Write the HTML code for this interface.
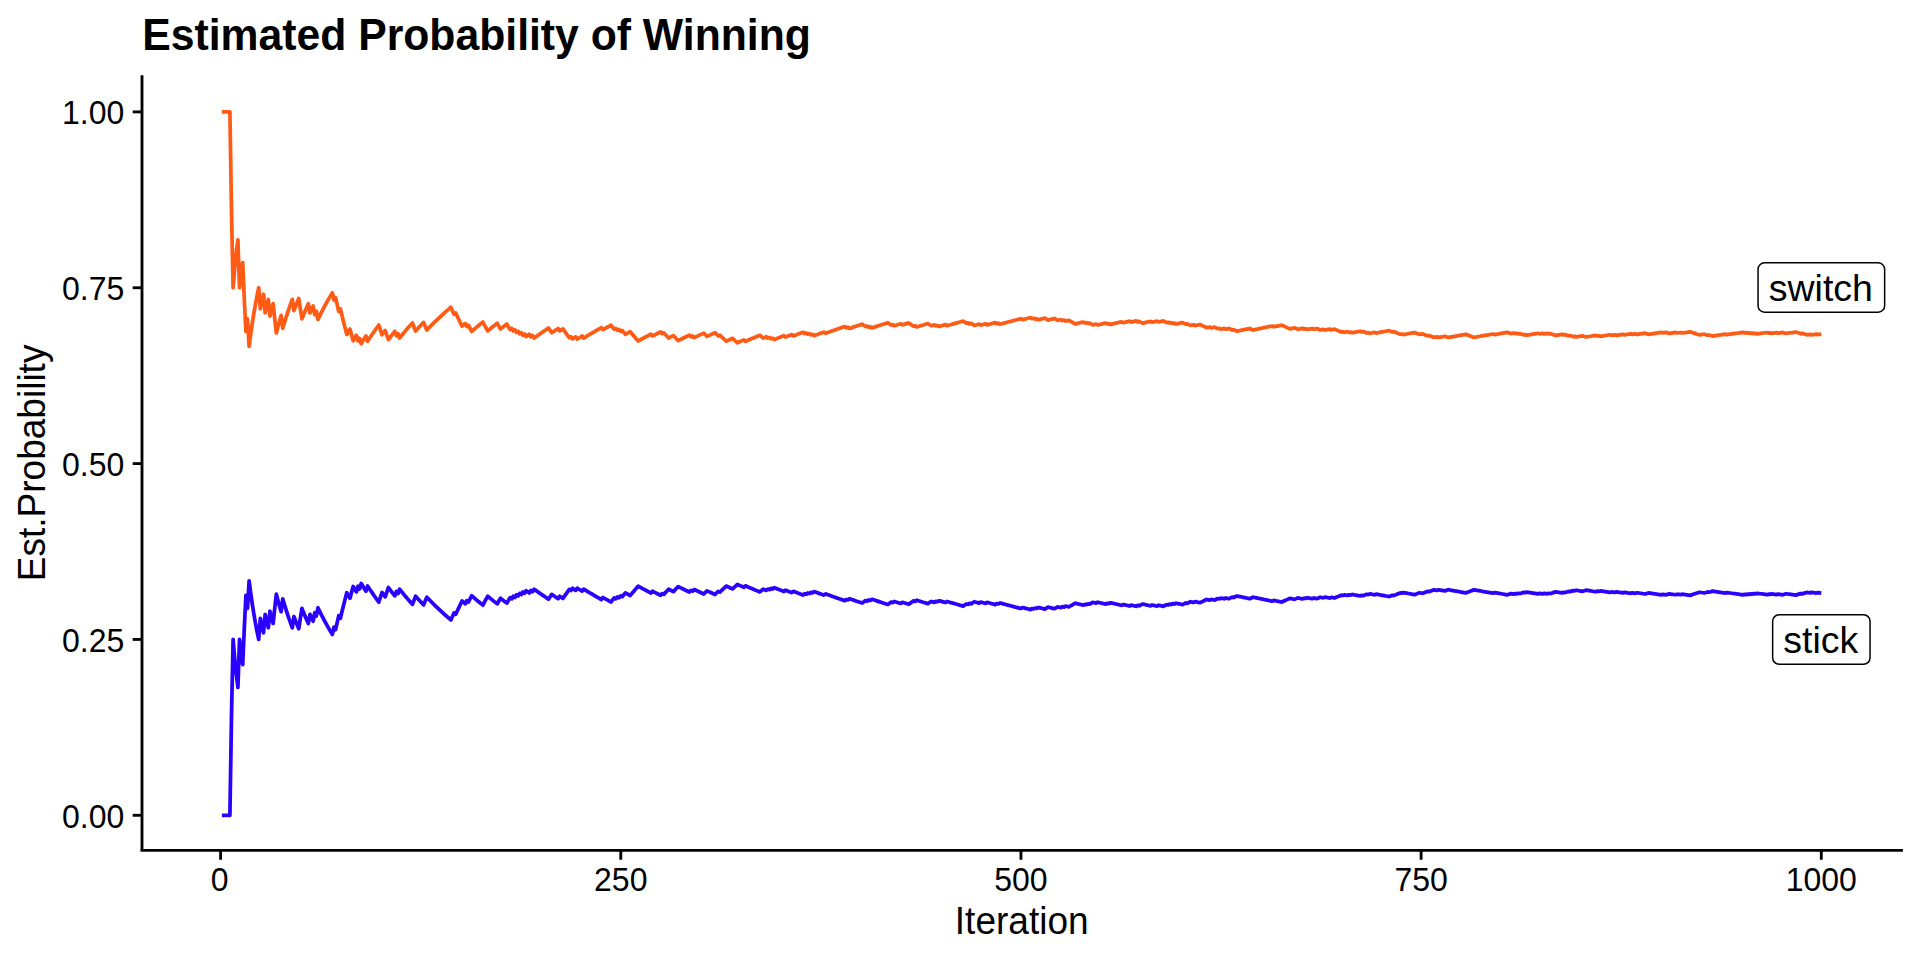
<!DOCTYPE html>
<html lang="en"><head><meta charset="utf-8"><title>Estimated Probability of Winning</title>
<style>html,body{margin:0;padding:0;background:#fff;}body{width:1920px;height:960px;overflow:hidden;}svg{display:block;}</style>
</head><body>
<svg width="1920" height="960" viewBox="0 0 1920 960">
<rect width="1920" height="960" fill="#fff"/>
<polyline fill="none" stroke="#2A00FF" stroke-width="3.75" stroke-linejoin="round" stroke-linecap="butt" points="221.90,815.30 223.50,815.30 225.10,815.30 226.70,815.30 228.31,815.30 229.91,815.30 231.51,714.81 233.11,639.45 234.71,658.99 236.31,674.62 237.91,687.41 239.51,639.45 241.11,652.98 242.71,664.57 244.31,627.73 245.92,595.49 247.52,608.42 249.12,580.83 250.72,593.17 252.32,604.28 253.92,614.33 255.52,623.46 257.12,631.80 258.72,639.45 260.32,618.35 261.93,625.92 263.53,632.94 265.13,614.33 266.73,621.26 268.33,627.73 269.93,611.09 271.53,617.47 273.13,623.46 274.73,608.42 276.34,594.23 277.94,600.37 279.54,606.18 281.14,611.68 282.74,598.87 284.34,604.28 285.94,609.43 287.54,614.33 289.14,619.00 290.74,623.46 292.35,627.73 293.95,616.51 295.55,620.74 297.15,624.80 298.75,628.68 300.35,618.35 301.95,608.42 303.55,612.40 305.15,616.22 306.75,619.91 308.36,623.46 309.96,614.33 311.56,617.85 313.16,621.26 314.76,612.63 316.36,616.00 317.96,607.74 319.56,611.09 321.16,614.33 322.76,617.47 324.37,620.51 325.97,623.46 327.57,626.33 329.17,629.11 330.77,631.80 332.37,634.43 333.97,627.07 335.57,629.68 337.17,622.59 338.77,615.69 340.38,618.35 341.98,611.68 343.58,605.19 345.18,598.87 346.78,592.71 348.38,595.49 349.98,598.20 351.58,592.27 353.18,586.48 354.78,589.21 356.38,591.87 357.99,586.29 359.59,588.92 361.19,583.50 362.79,586.10 364.39,588.65 365.99,591.14 367.59,585.93 369.19,588.40 370.79,590.81 372.39,593.17 374.00,595.49 375.60,597.75 377.20,599.97 378.80,602.15 380.40,597.25 382.00,592.44 383.60,594.63 385.20,596.77 386.80,592.11 388.40,587.53 390.01,589.68 391.61,591.79 393.21,593.86 394.81,595.89 396.41,591.49 398.01,593.51 399.61,589.21 401.21,591.21 402.81,593.17 404.42,595.11 406.02,597.00 407.62,598.87 409.22,600.70 410.82,602.51 412.42,604.28 414.02,600.21 415.62,596.21 417.22,597.99 418.82,599.74 420.43,601.47 422.03,603.16 423.63,604.83 425.23,600.98 426.83,597.19 428.43,598.87 430.03,600.52 431.63,602.15 433.23,603.75 434.83,605.33 436.44,606.89 438.04,608.42 439.64,609.93 441.24,611.42 442.84,612.88 444.44,614.33 446.04,615.75 447.64,617.16 449.24,618.54 450.84,619.91 452.45,616.41 454.05,612.95 455.65,614.33 457.25,610.93 458.85,607.58 460.45,604.28 462.05,601.02 463.65,602.43 465.25,603.82 466.85,600.63 468.46,602.01 470.06,598.87 471.66,595.77 473.26,597.16 474.86,598.53 476.46,599.88 478.06,601.22 479.66,602.54 481.26,603.85 482.86,605.14 484.47,602.15 486.07,599.20 487.67,596.28 489.27,597.58 490.87,598.87 492.47,600.14 494.07,601.40 495.67,602.64 497.27,603.87 498.87,601.05 500.48,598.25 502.08,599.48 503.68,600.70 505.28,601.91 506.88,603.10 508.48,600.37 510.08,597.67 511.68,598.87 513.28,596.21 514.88,597.40 516.49,594.77 518.09,595.96 519.69,593.37 521.29,594.55 522.89,592.00 524.49,593.17 526.09,590.65 527.69,591.82 529.29,592.98 530.89,590.50 532.50,591.65 534.10,589.21 535.70,590.35 537.30,591.49 538.90,592.62 540.50,593.73 542.10,594.83 543.70,595.92 545.30,597.00 546.90,598.07 548.50,599.13 550.11,596.77 551.71,594.43 553.31,595.49 554.91,596.54 556.51,597.58 558.11,598.61 559.71,596.32 561.31,597.35 562.91,598.36 564.51,596.10 566.12,593.86 567.72,591.64 569.32,589.44 570.92,590.47 572.52,588.29 574.12,589.32 575.72,590.34 577.32,588.19 578.92,589.21 580.53,590.21 582.13,591.21 583.73,589.10 585.33,590.09 586.93,591.07 588.53,592.05 590.13,593.01 591.73,593.97 593.33,594.92 594.93,595.86 596.54,596.80 598.14,597.72 599.74,598.64 601.34,599.55 602.94,597.51 604.54,598.42 606.14,599.32 607.74,600.21 609.34,601.10 610.94,601.97 612.55,599.97 614.15,597.99 615.75,598.87 617.35,596.91 618.95,597.78 620.55,595.84 622.15,596.71 623.75,594.79 625.35,592.88 626.95,593.76 628.56,594.63 630.16,595.49 631.76,593.61 633.36,591.74 634.96,589.89 636.56,588.05 638.16,586.22 639.76,587.10 641.36,587.97 642.96,588.83 644.57,589.68 646.17,590.53 647.77,591.37 649.37,592.21 650.97,593.04 652.57,591.25 654.17,592.08 655.77,592.90 657.37,593.72 658.97,594.52 660.58,595.33 662.18,593.58 663.78,594.38 665.38,592.64 666.98,590.92 668.58,589.21 670.18,590.01 671.78,590.81 673.38,591.60 674.98,589.91 676.59,588.24 678.19,586.57 679.79,587.37 681.39,588.16 682.99,588.95 684.59,589.73 686.19,590.50 687.79,591.27 689.39,592.04 690.99,590.40 692.60,591.17 694.20,589.55 695.80,590.31 697.40,591.06 699.00,591.81 700.60,592.56 702.20,593.30 703.80,594.03 705.40,592.44 707.00,590.86 708.61,591.60 710.21,592.33 711.81,593.05 713.41,593.77 715.01,594.49 716.61,592.93 718.21,591.39 719.81,592.11 721.41,590.57 723.01,589.05 724.62,587.53 726.22,586.03 727.82,586.75 729.42,587.47 731.02,588.18 732.62,588.89 734.22,587.41 735.82,585.93 737.42,584.46 739.02,585.18 740.62,585.88 742.23,586.59 743.83,587.29 745.43,585.84 747.03,586.53 748.63,587.23 750.23,587.92 751.83,588.60 753.43,589.28 755.03,589.96 756.63,590.63 758.24,591.30 759.84,591.97 761.44,590.54 763.04,589.13 764.64,589.80 766.24,590.46 767.84,589.06 769.44,589.72 771.04,588.33 772.64,588.99 774.25,587.61 775.85,588.27 777.45,588.92 779.05,589.57 780.65,590.21 782.25,590.85 783.85,591.49 785.45,590.13 787.05,590.77 788.65,591.40 790.26,592.03 791.86,592.66 793.46,591.31 795.06,591.94 796.66,592.56 798.26,593.17 799.86,593.79 801.46,594.40 803.06,595.00 804.66,593.68 806.27,594.29 807.87,592.97 809.47,593.58 811.07,592.27 812.67,592.87 814.27,591.58 815.87,592.18 817.47,592.78 819.07,593.37 820.67,593.96 822.28,594.55 823.88,595.14 825.48,593.86 827.08,594.44 828.68,595.02 830.28,595.60 831.88,596.18 833.48,596.75 835.08,597.32 836.68,597.89 838.29,598.45 839.89,599.01 841.49,599.57 843.09,600.12 844.69,600.67 846.29,599.42 847.89,599.97 849.49,598.73 851.09,599.28 852.69,599.83 854.30,600.37 855.90,600.91 857.50,601.45 859.10,601.99 860.70,602.52 862.30,603.05 863.90,601.83 865.50,600.61 867.10,601.15 868.70,599.94 870.31,600.47 871.91,599.27 873.51,599.80 875.11,600.32 876.71,600.85 878.31,601.37 879.91,601.89 881.51,602.41 883.11,602.92 884.71,603.43 886.32,603.94 887.92,604.45 889.52,603.27 891.12,602.10 892.72,602.61 894.32,601.44 895.92,601.95 897.52,602.45 899.12,602.95 900.72,603.45 902.33,602.30 903.93,602.80 905.53,603.29 907.13,603.79 908.73,604.28 910.33,603.14 911.93,602.00 913.53,600.87 915.13,601.36 916.73,600.24 918.34,600.73 919.94,601.22 921.54,601.71 923.14,602.20 924.74,602.68 926.34,603.16 927.94,603.64 929.54,602.53 931.14,601.43 932.74,601.91 934.35,602.39 935.95,601.29 937.55,601.77 939.15,600.68 940.75,601.15 942.35,601.63 943.95,602.10 945.55,602.57 947.15,601.49 948.76,601.96 950.36,602.43 951.96,602.89 953.56,603.36 955.16,603.82 956.76,604.28 958.36,604.74 959.96,605.19 961.56,605.65 963.16,606.10 964.77,605.04 966.37,603.98 967.97,604.43 969.57,603.38 971.17,603.83 972.77,602.78 974.37,601.74 975.97,602.19 977.57,602.64 979.17,603.09 980.78,602.06 982.38,602.51 983.98,602.95 985.58,603.40 987.18,602.37 988.78,602.81 990.38,603.26 991.98,603.70 993.58,604.13 995.18,604.57 996.79,603.55 998.39,603.99 999.99,602.98 1001.59,603.42 1003.19,603.85 1004.79,604.28 1006.39,604.71 1007.99,605.14 1009.59,605.56 1011.19,605.99 1012.80,606.41 1014.40,606.83 1016.00,607.25 1017.60,607.67 1019.20,608.09 1020.80,608.50 1022.40,607.51 1024.00,607.92 1025.60,608.34 1027.20,608.75 1028.81,609.16 1030.41,609.56 1032.01,608.58 1033.61,608.99 1035.21,608.01 1036.81,608.42 1038.41,607.45 1040.01,607.85 1041.61,608.26 1043.21,608.66 1044.82,609.06 1046.42,608.10 1048.02,607.14 1049.62,607.54 1051.22,607.94 1052.82,608.34 1054.42,608.74 1056.02,607.78 1057.62,606.84 1059.22,607.23 1060.83,607.63 1062.43,606.69 1064.03,607.08 1065.63,606.15 1067.23,606.54 1068.83,606.93 1070.43,606.00 1072.03,605.07 1073.63,604.15 1075.23,603.23 1076.84,603.62 1078.44,604.02 1080.04,604.41 1081.64,604.80 1083.24,605.19 1084.84,604.28 1086.44,604.67 1088.04,603.76 1089.64,604.15 1091.24,603.25 1092.85,602.34 1094.45,602.73 1096.05,603.12 1097.65,602.23 1099.25,602.61 1100.85,603.00 1102.45,603.39 1104.05,603.77 1105.65,604.15 1107.25,603.26 1108.86,603.65 1110.46,602.76 1112.06,603.14 1113.66,603.52 1115.26,603.90 1116.86,604.28 1118.46,604.66 1120.06,605.03 1121.66,605.40 1123.26,604.53 1124.87,604.90 1126.47,605.27 1128.07,605.64 1129.67,606.01 1131.27,605.15 1132.87,605.51 1134.47,605.88 1136.07,606.25 1137.67,605.38 1139.27,605.75 1140.88,604.89 1142.48,604.04 1144.08,604.40 1145.68,604.77 1147.28,605.13 1148.88,605.49 1150.48,605.85 1152.08,605.01 1153.68,605.37 1155.28,605.73 1156.88,606.08 1158.49,605.24 1160.09,605.60 1161.69,605.95 1163.29,606.31 1164.89,605.47 1166.49,604.64 1168.09,604.99 1169.69,604.16 1171.29,604.52 1172.89,603.69 1174.50,604.04 1176.10,603.22 1177.70,603.57 1179.30,603.93 1180.90,604.28 1182.50,604.63 1184.10,603.81 1185.70,603.00 1187.30,603.35 1188.90,602.54 1190.51,601.73 1192.11,602.08 1193.71,602.43 1195.31,601.62 1196.91,601.97 1198.51,602.32 1200.11,602.67 1201.71,601.87 1203.31,601.07 1204.91,600.28 1206.52,599.48 1208.12,599.83 1209.72,600.18 1211.32,599.39 1212.92,599.74 1214.52,600.09 1216.12,599.30 1217.72,598.52 1219.32,598.87 1220.92,598.09 1222.53,598.44 1224.13,598.78 1225.73,598.01 1227.33,598.35 1228.93,598.70 1230.53,597.93 1232.13,597.16 1233.73,597.50 1235.33,596.74 1236.93,595.97 1238.54,596.32 1240.14,596.66 1241.74,597.00 1243.34,597.35 1244.94,597.69 1246.54,598.03 1248.14,598.36 1249.74,598.70 1251.34,597.95 1252.94,597.19 1254.55,597.53 1256.15,597.87 1257.75,598.20 1259.35,598.54 1260.95,598.87 1262.55,599.20 1264.15,599.53 1265.75,599.86 1267.35,600.19 1268.95,600.52 1270.56,600.85 1272.16,601.18 1273.76,600.43 1275.36,600.76 1276.96,601.08 1278.56,601.41 1280.16,601.73 1281.76,602.05 1283.36,601.31 1284.96,600.58 1286.57,599.84 1288.17,599.11 1289.77,598.38 1291.37,598.71 1292.97,599.03 1294.57,599.35 1296.17,598.63 1297.77,597.90 1299.37,598.23 1300.97,598.55 1302.58,598.87 1304.18,598.15 1305.78,598.47 1307.38,597.75 1308.98,598.07 1310.58,598.39 1312.18,598.71 1313.78,598.00 1315.38,598.32 1316.98,598.63 1318.59,597.92 1320.19,597.22 1321.79,597.53 1323.39,597.85 1324.99,597.14 1326.59,597.46 1328.19,597.77 1329.79,598.09 1331.39,597.39 1332.99,597.70 1334.60,598.01 1336.20,597.32 1337.80,596.62 1339.40,595.93 1341.00,595.24 1342.60,595.55 1344.20,594.86 1345.80,595.17 1347.40,595.49 1349.00,594.80 1350.61,595.11 1352.21,594.43 1353.81,594.74 1355.41,595.05 1357.01,595.36 1358.61,595.67 1360.21,595.98 1361.81,595.30 1363.41,595.61 1365.01,594.93 1366.62,594.26 1368.22,594.57 1369.82,593.90 1371.42,594.20 1373.02,594.51 1374.62,594.82 1376.22,594.15 1377.82,594.45 1379.42,594.76 1381.02,595.06 1382.63,595.37 1384.23,595.67 1385.83,595.97 1387.43,596.27 1389.03,596.57 1390.63,595.91 1392.23,595.25 1393.83,595.55 1395.43,594.89 1397.03,594.23 1398.64,593.58 1400.24,592.92 1401.84,593.22 1403.44,592.57 1405.04,592.87 1406.64,593.17 1408.24,593.47 1409.84,593.77 1411.44,594.07 1413.04,594.37 1414.65,594.66 1416.25,594.02 1417.85,593.37 1419.45,592.73 1421.05,593.03 1422.65,593.32 1424.25,592.68 1425.85,592.04 1427.45,591.41 1429.05,591.70 1430.66,591.07 1432.26,590.44 1433.86,589.80 1435.46,590.10 1437.06,590.40 1438.66,589.77 1440.26,590.06 1441.86,590.36 1443.46,590.65 1445.06,590.95 1446.67,590.32 1448.27,589.70 1449.87,589.99 1451.47,590.29 1453.07,590.58 1454.67,590.87 1456.27,591.16 1457.87,591.45 1459.47,591.74 1461.08,592.03 1462.68,592.31 1464.28,592.60 1465.88,592.89 1467.48,592.27 1469.08,591.65 1470.68,591.04 1472.28,590.43 1473.88,589.82 1475.48,590.10 1477.09,590.39 1478.69,590.68 1480.29,590.96 1481.89,591.25 1483.49,591.53 1485.09,591.81 1486.69,592.10 1488.29,592.38 1489.89,592.66 1491.49,592.94 1493.10,593.22 1494.70,592.62 1496.30,592.89 1497.90,593.17 1499.50,593.45 1501.10,593.73 1502.70,594.01 1504.30,594.28 1505.90,594.56 1507.50,594.83 1509.11,594.23 1510.71,593.63 1512.31,593.91 1513.91,594.18 1515.51,593.59 1517.11,593.86 1518.71,593.26 1520.31,593.54 1521.91,592.95 1523.51,592.36 1525.12,592.63 1526.72,592.04 1528.32,592.31 1529.92,592.59 1531.52,592.86 1533.12,593.13 1534.72,593.40 1536.32,593.67 1537.92,593.94 1539.52,593.35 1541.12,593.62 1542.73,593.89 1544.33,593.31 1545.93,593.58 1547.53,593.84 1549.13,593.26 1550.73,593.53 1552.33,592.95 1553.93,592.37 1555.53,591.80 1557.13,592.07 1558.74,592.33 1560.34,592.60 1561.94,592.86 1563.54,592.29 1565.14,592.56 1566.74,591.99 1568.34,591.41 1569.94,591.68 1571.54,591.11 1573.14,590.54 1574.75,590.81 1576.35,590.25 1577.95,590.51 1579.55,590.78 1581.15,591.04 1582.75,591.30 1584.35,590.74 1585.95,590.18 1587.55,590.44 1589.15,590.71 1590.76,590.97 1592.36,591.23 1593.96,591.49 1595.56,591.75 1597.16,591.19 1598.76,591.45 1600.36,590.90 1601.96,591.16 1603.56,591.42 1605.16,591.68 1606.77,591.93 1608.37,592.19 1609.97,592.45 1611.57,591.90 1613.17,592.15 1614.77,592.41 1616.37,591.86 1617.97,592.11 1619.57,592.37 1621.17,592.62 1622.78,592.88 1624.38,592.33 1625.98,592.58 1627.58,592.84 1629.18,593.09 1630.78,593.34 1632.38,592.80 1633.98,593.05 1635.58,593.30 1637.18,592.76 1638.79,593.01 1640.39,593.26 1641.99,593.51 1643.59,593.76 1645.19,594.01 1646.79,593.46 1648.39,592.92 1649.99,593.17 1651.59,593.42 1653.19,593.67 1654.80,593.92 1656.40,594.16 1658.00,594.41 1659.60,594.66 1661.20,594.90 1662.80,594.37 1664.40,594.61 1666.00,594.85 1667.60,594.32 1669.20,593.79 1670.81,594.03 1672.41,594.28 1674.01,594.52 1675.61,594.76 1677.21,594.23 1678.81,594.47 1680.41,594.72 1682.01,594.19 1683.61,594.43 1685.21,594.67 1686.82,594.91 1688.42,595.15 1690.02,595.39 1691.62,594.87 1693.22,594.34 1694.82,593.82 1696.42,593.29 1698.02,592.77 1699.62,592.25 1701.22,592.49 1702.83,592.73 1704.43,592.97 1706.03,592.46 1707.63,591.94 1709.23,592.18 1710.83,591.66 1712.43,591.15 1714.03,591.39 1715.63,591.63 1717.23,591.87 1718.84,592.11 1720.44,592.34 1722.04,592.58 1723.64,592.82 1725.24,593.06 1726.84,592.54 1728.44,592.78 1730.04,593.02 1731.64,593.25 1733.24,593.49 1734.85,593.72 1736.45,593.96 1738.05,594.19 1739.65,594.42 1741.25,594.65 1742.85,594.89 1744.45,594.38 1746.05,594.61 1747.65,594.11 1749.25,594.34 1750.86,593.83 1752.46,594.06 1754.06,593.56 1755.66,593.79 1757.26,593.29 1758.86,593.52 1760.46,593.75 1762.06,593.98 1763.66,594.21 1765.26,594.44 1766.87,594.67 1768.47,594.17 1770.07,594.40 1771.67,593.90 1773.27,594.13 1774.87,594.36 1776.47,594.58 1778.07,594.09 1779.67,594.31 1781.27,594.54 1782.88,594.77 1784.48,594.27 1786.08,593.78 1787.68,594.01 1789.28,594.23 1790.88,594.46 1792.48,594.68 1794.08,594.91 1795.68,595.13 1797.28,594.64 1798.89,594.15 1800.49,593.66 1802.09,593.89 1803.69,593.40 1805.29,592.91 1806.89,592.43 1808.49,592.65 1810.09,592.88 1811.69,592.39 1813.29,592.62 1814.90,592.84 1816.50,593.06 1818.10,592.58 1819.70,592.80 1821.30,593.03"/>
<polyline fill="none" stroke="#FF5B14" stroke-width="3.75" stroke-linejoin="round" stroke-linecap="butt" points="221.90,111.90 223.50,111.90 225.10,111.90 226.70,111.90 228.31,111.90 229.91,111.90 231.51,212.39 233.11,287.75 234.71,268.21 236.31,252.58 237.91,239.79 239.51,287.75 241.11,274.22 242.71,262.63 244.31,299.47 245.92,331.71 247.52,318.78 249.12,346.37 250.72,334.03 252.32,322.92 253.92,312.87 255.52,303.74 257.12,295.40 258.72,287.75 260.32,308.85 261.93,301.28 263.53,294.26 265.13,312.87 266.73,305.94 268.33,299.47 269.93,316.11 271.53,309.73 273.13,303.74 274.73,318.78 276.34,332.97 277.94,326.83 279.54,321.02 281.14,315.52 282.74,328.33 284.34,322.92 285.94,317.77 287.54,312.87 289.14,308.20 290.74,303.74 292.35,299.47 293.95,310.69 295.55,306.46 297.15,302.40 298.75,298.52 300.35,308.85 301.95,318.78 303.55,314.80 305.15,310.98 306.75,307.29 308.36,303.74 309.96,312.87 311.56,309.35 313.16,305.94 314.76,314.57 316.36,311.20 317.96,319.46 319.56,316.11 321.16,312.87 322.76,309.73 324.37,306.69 325.97,303.74 327.57,300.87 329.17,298.09 330.77,295.40 332.37,292.77 333.97,300.13 335.57,297.52 337.17,304.61 338.77,311.51 340.38,308.85 341.98,315.52 343.58,322.01 345.18,328.33 346.78,334.49 348.38,331.71 349.98,329.00 351.58,334.93 353.18,340.72 354.78,337.99 356.38,335.33 357.99,340.91 359.59,338.28 361.19,343.70 362.79,341.10 364.39,338.55 365.99,336.06 367.59,341.27 369.19,338.80 370.79,336.39 372.39,334.03 374.00,331.71 375.60,329.45 377.20,327.23 378.80,325.05 380.40,329.95 382.00,334.76 383.60,332.57 385.20,330.43 386.80,335.09 388.40,339.67 390.01,337.52 391.61,335.41 393.21,333.34 394.81,331.31 396.41,335.71 398.01,333.69 399.61,337.99 401.21,335.99 402.81,334.03 404.42,332.09 406.02,330.20 407.62,328.33 409.22,326.50 410.82,324.69 412.42,322.92 414.02,326.99 415.62,330.99 417.22,329.21 418.82,327.46 420.43,325.73 422.03,324.04 423.63,322.37 425.23,326.22 426.83,330.01 428.43,328.33 430.03,326.68 431.63,325.05 433.23,323.45 434.83,321.87 436.44,320.31 438.04,318.78 439.64,317.27 441.24,315.78 442.84,314.32 444.44,312.87 446.04,311.45 447.64,310.04 449.24,308.66 450.84,307.29 452.45,310.79 454.05,314.25 455.65,312.87 457.25,316.27 458.85,319.62 460.45,322.92 462.05,326.18 463.65,324.77 465.25,323.38 466.85,326.57 468.46,325.19 470.06,328.33 471.66,331.43 473.26,330.04 474.86,328.67 476.46,327.32 478.06,325.98 479.66,324.66 481.26,323.35 482.86,322.06 484.47,325.05 486.07,328.00 487.67,330.92 489.27,329.62 490.87,328.33 492.47,327.06 494.07,325.80 495.67,324.56 497.27,323.33 498.87,326.15 500.48,328.95 502.08,327.72 503.68,326.50 505.28,325.29 506.88,324.10 508.48,326.83 510.08,329.53 511.68,328.33 513.28,330.99 514.88,329.80 516.49,332.43 518.09,331.24 519.69,333.83 521.29,332.65 522.89,335.20 524.49,334.03 526.09,336.55 527.69,335.38 529.29,334.22 530.89,336.70 532.50,335.55 534.10,337.99 535.70,336.85 537.30,335.71 538.90,334.58 540.50,333.47 542.10,332.37 543.70,331.28 545.30,330.20 546.90,329.13 548.50,328.07 550.11,330.43 551.71,332.77 553.31,331.71 554.91,330.66 556.51,329.62 558.11,328.59 559.71,330.88 561.31,329.85 562.91,328.84 564.51,331.10 566.12,333.34 567.72,335.56 569.32,337.76 570.92,336.73 572.52,338.91 574.12,337.88 575.72,336.86 577.32,339.01 578.92,337.99 580.53,336.99 582.13,335.99 583.73,338.10 585.33,337.11 586.93,336.13 588.53,335.15 590.13,334.19 591.73,333.23 593.33,332.28 594.93,331.34 596.54,330.40 598.14,329.48 599.74,328.56 601.34,327.65 602.94,329.69 604.54,328.78 606.14,327.88 607.74,326.99 609.34,326.10 610.94,325.23 612.55,327.23 614.15,329.21 615.75,328.33 617.35,330.29 618.95,329.42 620.55,331.36 622.15,330.49 623.75,332.41 625.35,334.32 626.95,333.44 628.56,332.57 630.16,331.71 631.76,333.59 633.36,335.46 634.96,337.31 636.56,339.15 638.16,340.98 639.76,340.10 641.36,339.23 642.96,338.37 644.57,337.52 646.17,336.67 647.77,335.83 649.37,334.99 650.97,334.16 652.57,335.95 654.17,335.12 655.77,334.30 657.37,333.48 658.97,332.68 660.58,331.87 662.18,333.62 663.78,332.82 665.38,334.56 666.98,336.28 668.58,337.99 670.18,337.19 671.78,336.39 673.38,335.60 674.98,337.29 676.59,338.96 678.19,340.63 679.79,339.83 681.39,339.04 682.99,338.25 684.59,337.47 686.19,336.70 687.79,335.93 689.39,335.16 690.99,336.80 692.60,336.03 694.20,337.65 695.80,336.89 697.40,336.14 699.00,335.39 700.60,334.64 702.20,333.90 703.80,333.17 705.40,334.76 707.00,336.34 708.61,335.60 710.21,334.87 711.81,334.15 713.41,333.43 715.01,332.71 716.61,334.27 718.21,335.81 719.81,335.09 721.41,336.63 723.01,338.15 724.62,339.67 726.22,341.17 727.82,340.45 729.42,339.73 731.02,339.02 732.62,338.31 734.22,339.79 735.82,341.27 737.42,342.74 739.02,342.02 740.62,341.32 742.23,340.61 743.83,339.91 745.43,341.36 747.03,340.67 748.63,339.97 750.23,339.28 751.83,338.60 753.43,337.92 755.03,337.24 756.63,336.57 758.24,335.90 759.84,335.23 761.44,336.66 763.04,338.07 764.64,337.40 766.24,336.74 767.84,338.14 769.44,337.48 771.04,338.87 772.64,338.21 774.25,339.59 775.85,338.93 777.45,338.28 779.05,337.63 780.65,336.99 782.25,336.35 783.85,335.71 785.45,337.07 787.05,336.43 788.65,335.80 790.26,335.17 791.86,334.54 793.46,335.89 795.06,335.26 796.66,334.64 798.26,334.03 799.86,333.41 801.46,332.80 803.06,332.20 804.66,333.52 806.27,332.91 807.87,334.23 809.47,333.62 811.07,334.93 812.67,334.33 814.27,335.62 815.87,335.02 817.47,334.42 819.07,333.83 820.67,333.24 822.28,332.65 823.88,332.06 825.48,333.34 827.08,332.76 828.68,332.18 830.28,331.60 831.88,331.02 833.48,330.45 835.08,329.88 836.68,329.31 838.29,328.75 839.89,328.19 841.49,327.63 843.09,327.08 844.69,326.53 846.29,327.78 847.89,327.23 849.49,328.47 851.09,327.92 852.69,327.37 854.30,326.83 855.90,326.29 857.50,325.75 859.10,325.21 860.70,324.68 862.30,324.15 863.90,325.37 865.50,326.59 867.10,326.05 868.70,327.26 870.31,326.73 871.91,327.93 873.51,327.40 875.11,326.88 876.71,326.35 878.31,325.83 879.91,325.31 881.51,324.79 883.11,324.28 884.71,323.77 886.32,323.26 887.92,322.75 889.52,323.93 891.12,325.10 892.72,324.59 894.32,325.76 895.92,325.25 897.52,324.75 899.12,324.25 900.72,323.75 902.33,324.90 903.93,324.40 905.53,323.91 907.13,323.41 908.73,322.92 910.33,324.06 911.93,325.20 913.53,326.33 915.13,325.84 916.73,326.96 918.34,326.47 919.94,325.98 921.54,325.49 923.14,325.00 924.74,324.52 926.34,324.04 927.94,323.56 929.54,324.67 931.14,325.77 932.74,325.29 934.35,324.81 935.95,325.91 937.55,325.43 939.15,326.52 940.75,326.05 942.35,325.57 943.95,325.10 945.55,324.63 947.15,325.71 948.76,325.24 950.36,324.77 951.96,324.31 953.56,323.84 955.16,323.38 956.76,322.92 958.36,322.46 959.96,322.01 961.56,321.55 963.16,321.10 964.77,322.16 966.37,323.22 967.97,322.77 969.57,323.82 971.17,323.37 972.77,324.42 974.37,325.46 975.97,325.01 977.57,324.56 979.17,324.11 980.78,325.14 982.38,324.69 983.98,324.25 985.58,323.80 987.18,324.83 988.78,324.39 990.38,323.94 991.98,323.50 993.58,323.07 995.18,322.63 996.79,323.65 998.39,323.21 999.99,324.22 1001.59,323.78 1003.19,323.35 1004.79,322.92 1006.39,322.49 1007.99,322.06 1009.59,321.64 1011.19,321.21 1012.80,320.79 1014.40,320.37 1016.00,319.95 1017.60,319.53 1019.20,319.11 1020.80,318.70 1022.40,319.69 1024.00,319.28 1025.60,318.86 1027.20,318.45 1028.81,318.04 1030.41,317.64 1032.01,318.62 1033.61,318.21 1035.21,319.19 1036.81,318.78 1038.41,319.75 1040.01,319.35 1041.61,318.94 1043.21,318.54 1044.82,318.14 1046.42,319.10 1048.02,320.06 1049.62,319.66 1051.22,319.26 1052.82,318.86 1054.42,318.46 1056.02,319.42 1057.62,320.36 1059.22,319.97 1060.83,319.57 1062.43,320.51 1064.03,320.12 1065.63,321.05 1067.23,320.66 1068.83,320.27 1070.43,321.20 1072.03,322.13 1073.63,323.05 1075.23,323.97 1076.84,323.58 1078.44,323.18 1080.04,322.79 1081.64,322.40 1083.24,322.01 1084.84,322.92 1086.44,322.53 1088.04,323.44 1089.64,323.05 1091.24,323.95 1092.85,324.86 1094.45,324.47 1096.05,324.08 1097.65,324.97 1099.25,324.59 1100.85,324.20 1102.45,323.81 1104.05,323.43 1105.65,323.05 1107.25,323.94 1108.86,323.55 1110.46,324.44 1112.06,324.06 1113.66,323.68 1115.26,323.30 1116.86,322.92 1118.46,322.54 1120.06,322.17 1121.66,321.80 1123.26,322.67 1124.87,322.30 1126.47,321.93 1128.07,321.56 1129.67,321.19 1131.27,322.05 1132.87,321.69 1134.47,321.32 1136.07,320.95 1137.67,321.82 1139.27,321.45 1140.88,322.31 1142.48,323.16 1144.08,322.80 1145.68,322.43 1147.28,322.07 1148.88,321.71 1150.48,321.35 1152.08,322.19 1153.68,321.83 1155.28,321.47 1156.88,321.12 1158.49,321.96 1160.09,321.60 1161.69,321.25 1163.29,320.89 1164.89,321.73 1166.49,322.56 1168.09,322.21 1169.69,323.04 1171.29,322.68 1172.89,323.51 1174.50,323.16 1176.10,323.98 1177.70,323.63 1179.30,323.27 1180.90,322.92 1182.50,322.57 1184.10,323.39 1185.70,324.20 1187.30,323.85 1188.90,324.66 1190.51,325.47 1192.11,325.12 1193.71,324.77 1195.31,325.58 1196.91,325.23 1198.51,324.88 1200.11,324.53 1201.71,325.33 1203.31,326.13 1204.91,326.92 1206.52,327.72 1208.12,327.37 1209.72,327.02 1211.32,327.81 1212.92,327.46 1214.52,327.11 1216.12,327.90 1217.72,328.68 1219.32,328.33 1220.92,329.11 1222.53,328.76 1224.13,328.42 1225.73,329.19 1227.33,328.85 1228.93,328.50 1230.53,329.27 1232.13,330.04 1233.73,329.70 1235.33,330.46 1236.93,331.23 1238.54,330.88 1240.14,330.54 1241.74,330.20 1243.34,329.85 1244.94,329.51 1246.54,329.17 1248.14,328.84 1249.74,328.50 1251.34,329.25 1252.94,330.01 1254.55,329.67 1256.15,329.33 1257.75,329.00 1259.35,328.66 1260.95,328.33 1262.55,328.00 1264.15,327.67 1265.75,327.34 1267.35,327.01 1268.95,326.68 1270.56,326.35 1272.16,326.02 1273.76,326.77 1275.36,326.44 1276.96,326.12 1278.56,325.79 1280.16,325.47 1281.76,325.15 1283.36,325.89 1284.96,326.62 1286.57,327.36 1288.17,328.09 1289.77,328.82 1291.37,328.49 1292.97,328.17 1294.57,327.85 1296.17,328.57 1297.77,329.30 1299.37,328.97 1300.97,328.65 1302.58,328.33 1304.18,329.05 1305.78,328.73 1307.38,329.45 1308.98,329.13 1310.58,328.81 1312.18,328.49 1313.78,329.20 1315.38,328.88 1316.98,328.57 1318.59,329.28 1320.19,329.98 1321.79,329.67 1323.39,329.35 1324.99,330.06 1326.59,329.74 1328.19,329.43 1329.79,329.11 1331.39,329.81 1332.99,329.50 1334.60,329.19 1336.20,329.88 1337.80,330.58 1339.40,331.27 1341.00,331.96 1342.60,331.65 1344.20,332.34 1345.80,332.03 1347.40,331.71 1349.00,332.40 1350.61,332.09 1352.21,332.77 1353.81,332.46 1355.41,332.15 1357.01,331.84 1358.61,331.53 1360.21,331.22 1361.81,331.90 1363.41,331.59 1365.01,332.27 1366.62,332.94 1368.22,332.63 1369.82,333.30 1371.42,333.00 1373.02,332.69 1374.62,332.38 1376.22,333.05 1377.82,332.75 1379.42,332.44 1381.02,332.14 1382.63,331.83 1384.23,331.53 1385.83,331.23 1387.43,330.93 1389.03,330.63 1390.63,331.29 1392.23,331.95 1393.83,331.65 1395.43,332.31 1397.03,332.97 1398.64,333.62 1400.24,334.28 1401.84,333.98 1403.44,334.63 1405.04,334.33 1406.64,334.03 1408.24,333.73 1409.84,333.43 1411.44,333.13 1413.04,332.83 1414.65,332.54 1416.25,333.18 1417.85,333.83 1419.45,334.47 1421.05,334.17 1422.65,333.88 1424.25,334.52 1425.85,335.16 1427.45,335.79 1429.05,335.50 1430.66,336.13 1432.26,336.76 1433.86,337.40 1435.46,337.10 1437.06,336.80 1438.66,337.43 1440.26,337.14 1441.86,336.84 1443.46,336.55 1445.06,336.25 1446.67,336.88 1448.27,337.50 1449.87,337.21 1451.47,336.91 1453.07,336.62 1454.67,336.33 1456.27,336.04 1457.87,335.75 1459.47,335.46 1461.08,335.17 1462.68,334.89 1464.28,334.60 1465.88,334.31 1467.48,334.93 1469.08,335.55 1470.68,336.16 1472.28,336.77 1473.88,337.38 1475.48,337.10 1477.09,336.81 1478.69,336.52 1480.29,336.24 1481.89,335.95 1483.49,335.67 1485.09,335.39 1486.69,335.10 1488.29,334.82 1489.89,334.54 1491.49,334.26 1493.10,333.98 1494.70,334.58 1496.30,334.31 1497.90,334.03 1499.50,333.75 1501.10,333.47 1502.70,333.19 1504.30,332.92 1505.90,332.64 1507.50,332.37 1509.11,332.97 1510.71,333.57 1512.31,333.29 1513.91,333.02 1515.51,333.61 1517.11,333.34 1518.71,333.94 1520.31,333.66 1521.91,334.25 1523.51,334.84 1525.12,334.57 1526.72,335.16 1528.32,334.89 1529.92,334.61 1531.52,334.34 1533.12,334.07 1534.72,333.80 1536.32,333.53 1537.92,333.26 1539.52,333.85 1541.12,333.58 1542.73,333.31 1544.33,333.89 1545.93,333.62 1547.53,333.36 1549.13,333.94 1550.73,333.67 1552.33,334.25 1553.93,334.83 1555.53,335.40 1557.13,335.13 1558.74,334.87 1560.34,334.60 1561.94,334.34 1563.54,334.91 1565.14,334.64 1566.74,335.21 1568.34,335.79 1569.94,335.52 1571.54,336.09 1573.14,336.66 1574.75,336.39 1576.35,336.95 1577.95,336.69 1579.55,336.42 1581.15,336.16 1582.75,335.90 1584.35,336.46 1585.95,337.02 1587.55,336.76 1589.15,336.49 1590.76,336.23 1592.36,335.97 1593.96,335.71 1595.56,335.45 1597.16,336.01 1598.76,335.75 1600.36,336.30 1601.96,336.04 1603.56,335.78 1605.16,335.52 1606.77,335.27 1608.37,335.01 1609.97,334.75 1611.57,335.30 1613.17,335.05 1614.77,334.79 1616.37,335.34 1617.97,335.09 1619.57,334.83 1621.17,334.58 1622.78,334.32 1624.38,334.87 1625.98,334.62 1627.58,334.36 1629.18,334.11 1630.78,333.86 1632.38,334.40 1633.98,334.15 1635.58,333.90 1637.18,334.44 1638.79,334.19 1640.39,333.94 1641.99,333.69 1643.59,333.44 1645.19,333.19 1646.79,333.74 1648.39,334.28 1649.99,334.03 1651.59,333.78 1653.19,333.53 1654.80,333.28 1656.40,333.04 1658.00,332.79 1659.60,332.54 1661.20,332.30 1662.80,332.83 1664.40,332.59 1666.00,332.35 1667.60,332.88 1669.20,333.41 1670.81,333.17 1672.41,332.92 1674.01,332.68 1675.61,332.44 1677.21,332.97 1678.81,332.73 1680.41,332.48 1682.01,333.01 1683.61,332.77 1685.21,332.53 1686.82,332.29 1688.42,332.05 1690.02,331.81 1691.62,332.33 1693.22,332.86 1694.82,333.38 1696.42,333.91 1698.02,334.43 1699.62,334.95 1701.22,334.71 1702.83,334.47 1704.43,334.23 1706.03,334.74 1707.63,335.26 1709.23,335.02 1710.83,335.54 1712.43,336.05 1714.03,335.81 1715.63,335.57 1717.23,335.33 1718.84,335.09 1720.44,334.86 1722.04,334.62 1723.64,334.38 1725.24,334.14 1726.84,334.66 1728.44,334.42 1730.04,334.18 1731.64,333.95 1733.24,333.71 1734.85,333.48 1736.45,333.24 1738.05,333.01 1739.65,332.78 1741.25,332.55 1742.85,332.31 1744.45,332.82 1746.05,332.59 1747.65,333.09 1749.25,332.86 1750.86,333.37 1752.46,333.14 1754.06,333.64 1755.66,333.41 1757.26,333.91 1758.86,333.68 1760.46,333.45 1762.06,333.22 1763.66,332.99 1765.26,332.76 1766.87,332.53 1768.47,333.03 1770.07,332.80 1771.67,333.30 1773.27,333.07 1774.87,332.84 1776.47,332.62 1778.07,333.11 1779.67,332.89 1781.27,332.66 1782.88,332.43 1784.48,332.93 1786.08,333.42 1787.68,333.19 1789.28,332.97 1790.88,332.74 1792.48,332.52 1794.08,332.29 1795.68,332.07 1797.28,332.56 1798.89,333.05 1800.49,333.54 1802.09,333.31 1803.69,333.80 1805.29,334.29 1806.89,334.77 1808.49,334.55 1810.09,334.32 1811.69,334.81 1813.29,334.58 1814.90,334.36 1816.50,334.14 1818.10,334.62 1819.70,334.40 1821.30,334.17"/>
<path d="M142.0,75.2 V850.4" stroke="#000" stroke-width="2.85" fill="none"/>
<path d="M140.575,850.4 H1902.9" stroke="#000" stroke-width="2.85" fill="none"/>
<path d="M132.67,815.30 H142.0" stroke="#000" stroke-width="2.85"/>
<text transform="translate(124.30 827.70) scale(1.0 1.035)" text-anchor="end" font-size="32" font-family="Liberation Sans, Arial, Helvetica, sans-serif" fill="#000">0.00</text>
<path d="M132.67,639.45 H142.0" stroke="#000" stroke-width="2.85"/>
<text transform="translate(124.30 651.85) scale(1.0 1.035)" text-anchor="end" font-size="32" font-family="Liberation Sans, Arial, Helvetica, sans-serif" fill="#000">0.25</text>
<path d="M132.67,463.60 H142.0" stroke="#000" stroke-width="2.85"/>
<text transform="translate(124.30 476.00) scale(1.0 1.035)" text-anchor="end" font-size="32" font-family="Liberation Sans, Arial, Helvetica, sans-serif" fill="#000">0.50</text>
<path d="M132.67,287.75 H142.0" stroke="#000" stroke-width="2.85"/>
<text transform="translate(124.30 300.15) scale(1.0 1.035)" text-anchor="end" font-size="32" font-family="Liberation Sans, Arial, Helvetica, sans-serif" fill="#000">0.75</text>
<path d="M132.67,111.90 H142.0" stroke="#000" stroke-width="2.85"/>
<text transform="translate(124.30 124.30) scale(1.0 1.035)" text-anchor="end" font-size="32" font-family="Liberation Sans, Arial, Helvetica, sans-serif" fill="#000">1.00</text>
<path d="M220.60,850.4 V859.73" stroke="#000" stroke-width="2.85"/>
<text transform="translate(219.60 891.40) scale(1.0 1.035)" text-anchor="middle" font-size="32" font-family="Liberation Sans, Arial, Helvetica, sans-serif" fill="#000">0</text>
<path d="M620.77,850.4 V859.73" stroke="#000" stroke-width="2.85"/>
<text transform="translate(620.77 891.40) scale(1.0 1.035)" text-anchor="middle" font-size="32" font-family="Liberation Sans, Arial, Helvetica, sans-serif" fill="#000">250</text>
<path d="M1020.95,850.4 V859.73" stroke="#000" stroke-width="2.85"/>
<text transform="translate(1020.95 891.40) scale(1.0 1.035)" text-anchor="middle" font-size="32" font-family="Liberation Sans, Arial, Helvetica, sans-serif" fill="#000">500</text>
<path d="M1421.12,850.4 V859.73" stroke="#000" stroke-width="2.85"/>
<text transform="translate(1421.12 891.40) scale(1.0 1.035)" text-anchor="middle" font-size="32" font-family="Liberation Sans, Arial, Helvetica, sans-serif" fill="#000">750</text>
<path d="M1821.30,850.4 V859.73" stroke="#000" stroke-width="2.85"/>
<text transform="translate(1821.30 891.40) scale(1.0 1.035)" text-anchor="middle" font-size="32" font-family="Liberation Sans, Arial, Helvetica, sans-serif" fill="#000">1000</text>
<text transform="translate(1021.70 934.00) scale(0.992 1.035)" text-anchor="middle" font-size="37.33" font-family="Liberation Sans, Arial, Helvetica, sans-serif" fill="#000">Iteration</text>
<text transform="translate(45.00 462.90) rotate(-90) scale(0.992 1.035)" text-anchor="middle" font-size="37.33" font-family="Liberation Sans, Arial, Helvetica, sans-serif" fill="#000">Est.Probability</text>
<text transform="translate(142.20 49.70) scale(1.001 1.025)" text-anchor="start" font-size="42.67" font-family="Liberation Sans, Arial, Helvetica, sans-serif" font-weight="bold" fill="#000">Estimated Probability of Winning</text>
<rect x="1758.05" y="262.85" width="126.6" height="49.3" rx="6.5" ry="6.5" fill="#fff" stroke="#000" stroke-width="1.5"/>
<text transform="translate(1820.85 301.40) scale(1.0 0.973)" text-anchor="middle" font-size="37.5" font-family="Liberation Sans, Arial, Helvetica, sans-serif" fill="#000">switch</text>
<rect x="1772.65" y="614.75" width="97.4" height="49.5" rx="6.5" ry="6.5" fill="#fff" stroke="#000" stroke-width="1.5"/>
<text transform="translate(1820.85 652.70) scale(1.0 0.973)" text-anchor="middle" font-size="37.5" font-family="Liberation Sans, Arial, Helvetica, sans-serif" fill="#000">stick</text>
</svg>
</body></html>
